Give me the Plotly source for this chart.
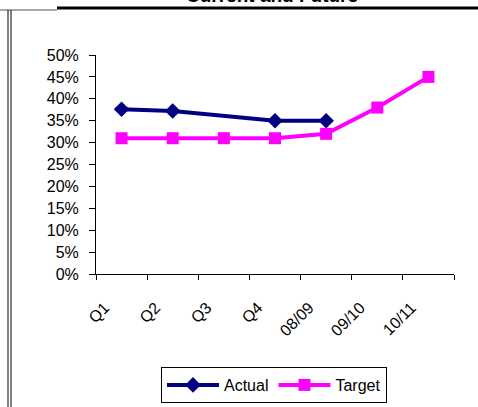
import plotly.graph_objects as go

categories = ["Q1", "Q2", "Q3", "Q4", "08/09", "09/10", "10/11"]
actual = [0.376, 0.372, None, 0.35, 0.35, None, None]
target = [0.31, 0.31, 0.31, 0.31, 0.32, 0.38, 0.45]

W, H = 478, 407
L, R, T, B = 96, 24, 55, 133
pw, ph = W - L - R, H - T - B

def px(x):
    return (x - L) / pw

def py(y):
    return (H - B - y) / ph

fig = go.Figure()
fig.add_trace(go.Scatter(
    x=categories, y=actual, name="Actual", mode="lines+markers",
    connectgaps=True,
    line=dict(color="#000080", width=4),
    marker=dict(symbol="diamond", size=12, color="#000080"),
))
fig.add_trace(go.Scatter(
    x=categories, y=target, name="Target", mode="lines+markers",
    line=dict(color="#FF00FF", width=4),
    marker=dict(symbol="square", size=12, color="#FF00FF"),
))

font = "Liberation Sans, Arial, sans-serif"
fig.update_layout(
    width=W, height=H,
    margin=dict(l=L, r=R, t=T, b=B, autoexpand=False),
    paper_bgcolor="white", plot_bgcolor="white",
    font=dict(family=font, size=16, color="black"),
    showlegend=True,
    legend=dict(orientation="h", x=px(274), xanchor="center", y=py(367), yanchor="top",
                bordercolor="black", borderwidth=1, font=dict(size=16),
                itemwidth=52, tracegroupgap=0),
    xaxis=dict(type="category", range=[-0.5, 6.5], tickson="boundaries",
               ticks="outside", ticklen=5, tickcolor="black", tickangle=-45,
               ticklabelstandoff=17, ticklabelshift=-17,
               showline=True, linecolor="black", linewidth=1, showgrid=False,
               tickfont=dict(size=16)),
    yaxis=dict(range=[0, 0.5], dtick=0.05, tickformat=".0%",
               ticks="outside", ticklen=6, tickcolor="black", ticklabelstandoff=7,
               showline=True, linecolor="black", linewidth=1, showgrid=False,
               zeroline=False, tickfont=dict(size=16)),
    shapes=[
        dict(type="line", xref="paper", yref="paper", x0=px(57), x1=px(478), y0=py(8), y1=py(8),
             line=dict(color="black", width=3)),
        dict(type="line", xref="paper", yref="paper", x0=px(0), x1=px(57), y0=py(10), y1=py(10),
             line=dict(color="#555555", width=1)),
        dict(type="line", xref="paper", yref="paper", x0=px(8), x1=px(8), y0=py(10), y1=py(407),
             line=dict(color="black", width=1)),
        dict(type="line", xref="paper", yref="paper", x0=px(11), x1=px(11), y0=py(10), y1=py(407),
             line=dict(color="black", width=1)),
    ],
    annotations=[
        dict(text="<b>Current and Future</b>", xref="paper", yref="paper",
             x=px(272), y=py(7.5), xanchor="center", yanchor="bottom", showarrow=False,
             font=dict(size=19, family=font)),
    ],
)

fig.write_html("out.html", config={"displayModeBar": False},
               post_script="document.body.style.margin='0';document.body.style.overflow='hidden';")
